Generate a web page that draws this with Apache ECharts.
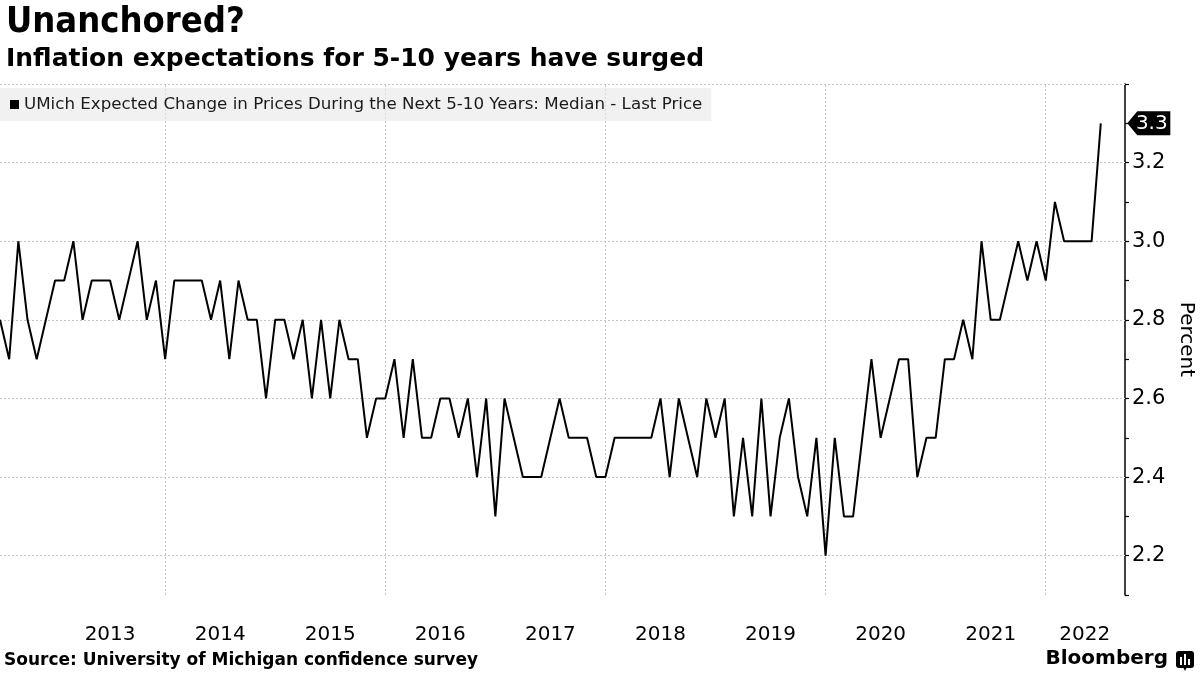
<!DOCTYPE html>
<html>
<head>
<meta charset="utf-8">
<script src="https://cdn.jsdelivr.net/npm/echarts@6/dist/echarts.min.js"></script>
<style>
html,body{margin:0;padding:0;background:#fff;overflow:hidden;}
#chart{width:1200px;height:675px;}
</style>
</head>
<body>
<div id="chart"></div>
<script>
// Monthly data, end-of-month, starting June 2012
const startYear = 2012;
const startMonth = 6;
const values = [
  2.8, 2.7, 3.0, 2.8, 2.7, 2.8, 2.9,                          // 2012 Jun-Dec
  2.9, 3.0, 2.8, 2.9, 2.9, 2.9, 2.8, 2.9, 3.0, 2.8, 2.9, 2.7, // 2013
  2.9, 2.9, 2.9, 2.9, 2.8, 2.9, 2.7, 2.9, 2.8, 2.8, 2.6, 2.8, // 2014
  2.8, 2.7, 2.8, 2.6, 2.8, 2.6, 2.8, 2.7, 2.7, 2.5, 2.6, 2.6, // 2015
  2.7, 2.5, 2.7, 2.5, 2.5, 2.6, 2.6, 2.5, 2.6, 2.4, 2.6, 2.3, // 2016
  2.6, 2.5, 2.4, 2.4, 2.4, 2.5, 2.6, 2.5, 2.5, 2.5, 2.4, 2.4, // 2017
  2.5, 2.5, 2.5, 2.5, 2.5, 2.6, 2.4, 2.6, 2.5, 2.4, 2.6, 2.5, // 2018
  2.6, 2.3, 2.5, 2.3, 2.6, 2.3, 2.5, 2.6, 2.4, 2.3, 2.5, 2.2, // 2019
  2.5, 2.3, 2.3, 2.5, 2.7, 2.5, 2.6, 2.7, 2.7, 2.4, 2.5, 2.5, // 2020
  2.7, 2.7, 2.8, 2.7, 3.0, 2.8, 2.8, 2.9, 3.0, 2.9, 3.0, 2.9, // 2021
  3.1, 3.0, 3.0, 3.0, 3.0, 3.3                                // 2022 Jan-Jun
];
const yearLabels = ['2013','2014','2015','2016','2017','2018','2019','2020','2021','2022'];
const yTickLabels = ['2.2','2.4','2.6','2.8','3.0','3.2'];
const yGridValues = [2.2, 2.4, 2.6, 2.8, 3.0, 3.2, 3.4];
const xGridYears = [2014, 2016, 2018, 2020, 2022];
const seriesName = 'UMich Expected Change in Prices During the Next 5-10 Years: Median - Last Price';

const xMin = 2012.5, xMax = 2022.72;
const yMin = 2.1, yMax = 3.4;

// end-of-month as decimal year
const points = values.map((v, i) => {
  const m = startMonth + i;
  const x = startYear + m / 12;
  return [Math.round(x * 1e6) / 1e6, v];
});
const last = points[points.length - 1];
const lastYear = yearLabels[yearLabels.length - 1];

const gridLines = xGridYears.map(y => ({ xAxis: y }))
  .concat(yGridValues.map(v => ({ yAxis: v })));

const chart = echarts.init(document.getElementById('chart'));
const FONT = 'DejaVu Sans';

chart.setOption({
  backgroundColor: '#ffffff',
  animation: false,
  title: [
    { text: 'Unanchored?', left: 1, top: 0,
      textStyle: { fontFamily: 'DejaVu Sans Condensed', fontSize: 36, fontWeight: 'bold', color: '#000' } },
    { text: 'Inflation expectations for 5-10 years have surged', left: 1, top: 42,
      textStyle: { fontFamily: FONT, fontSize: 25, fontWeight: 'bold', color: '#000' } }
  ],
  legend: {
    show: true,
    left: 0, top: 88,
    padding: [8, 9, 8, 10],
    backgroundColor: 'rgba(232,232,232,0.6)',
    icon: 'rect', itemWidth: 9, itemHeight: 9,
    textStyle: { fontFamily: FONT, fontSize: 16.7, color: '#1a1a1a' },
    data: [seriesName]
  },
  grid: { left: 0, right: 75, top: 84, bottom: 80, containLabel: false, outerBoundsMode: 'none' },
  xAxis: {
    type: 'value', min: xMin, max: xMax, interval: 0.5,
    axisLine: { show: false }, axisTick: { show: false },
    splitLine: { show: false },
    axisLabel: {
      show: true, margin: 30, fontFamily: FONT, fontSize: 20, color: '#000',
      formatter: function (val) {
        const frac = Math.abs(val - Math.floor(val) - 0.5) < 1e-6;
        if (!frac) return '';
        const label = String(Math.floor(val));
        if (yearLabels.indexOf(label) < 0) return '';
        if (label === lastYear) return '{last|' + label + '}';
        return label;
      },
      rich: { last: { fontFamily: FONT, fontSize: 20, color: '#000', padding: [0, 32, 0, 0] } }
    }
  },
  yAxis: {
    type: 'value', position: 'right', min: yMin, max: yMax, interval: 0.1,
    name: 'Percent', nameLocation: 'middle', nameGap: 49, nameRotate: -90,
    nameTextStyle: { fontFamily: FONT, fontSize: 20, color: '#000' },
    axisLine: { show: true, lineStyle: { color: '#000', width: 1.5 } },
    axisTick: { show: true, inside: false, length: 4, lineStyle: { color: '#000', width: 1.2 } },
    splitLine: { show: false },
    axisLabel: {
      show: true, margin: 7, fontFamily: FONT, fontSize: 21, color: '#000',
      formatter: function (val) {
        const s = val.toFixed(1);
        return yTickLabels.indexOf(s) >= 0 ? s : '';
      }
    }
  },
  series: [
    {
      name: seriesName,
      type: 'line',
      data: points,
      showSymbol: false,
      symbol: 'none',
      clip: false,
      z: 3,
      lineStyle: { color: '#000', width: 2 },
      itemStyle: { color: '#000' },
      markLine: {
        silent: true,
        z: 1,
        symbol: ['none', 'none'],
        label: { show: false },
        lineStyle: { color: '#c6c6c6', type: [2, 2], width: 1 },
        emphasis: { disabled: true },
        data: gridLines
      },
      markPoint: {
        silent: true,
        symbol: 'path://M0,12 L10,0 L43,0 L43,24 L10,24 Z',
        symbolSize: [43, 24],
        symbolOffset: [48, 0],
        itemStyle: { color: '#000' },
        label: {
          show: true, color: '#fff', fontFamily: FONT, fontSize: 20,
          position: 'inside', offset: [3, 0],
          formatter: function (p) { return p.value.toFixed(1); }
        },
        data: [{ coord: last, value: last[1] }]
      }
    }
  ],
  graphic: [
    { type: 'text', left: 4, top: 652,
      style: { text: 'Source: University of Michigan confidence survey',
        font: 'bold 17px "DejaVu Sans"', fill: '#000' } },
    { type: 'text', right: 32, top: 649,
      style: { text: 'Bloomberg', font: 'bold 20px "DejaVu Sans"', fill: '#000' } },
    { type: 'group', right: 6, top: 651, children: [
      { type: 'rect', shape: { x: 0, y: 0, width: 18, height: 17, r: 3 }, style: { fill: '#000' } },
      { type: 'polygon', shape: { points: [[7, 16], [11, 16], [9, 20]] }, style: { fill: '#000' } },
      { type: 'rect', shape: { x: 4, y: 6, width: 2, height: 8 }, style: { fill: '#fff' } },
      { type: 'rect', shape: { x: 8, y: 3, width: 2, height: 11 }, style: { fill: '#fff' } },
      { type: 'rect', shape: { x: 12, y: 8, width: 2, height: 6 }, style: { fill: '#fff' } }
    ]}
  ]
});
</script>
</body>
</html>
